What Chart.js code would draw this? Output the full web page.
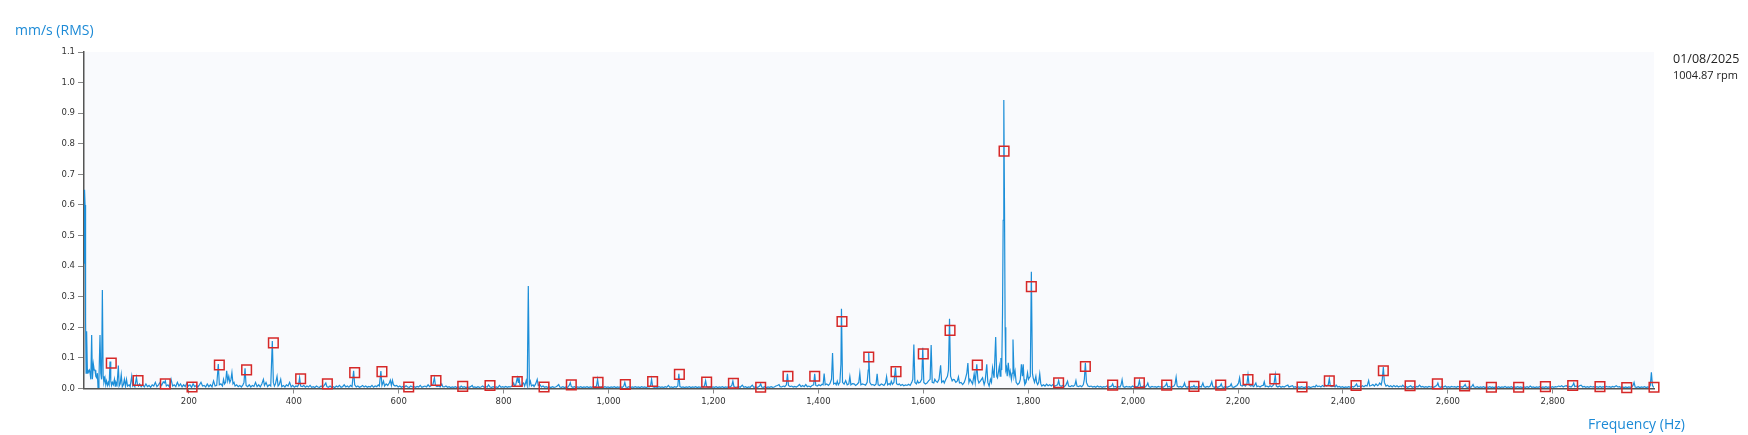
<!DOCTYPE html>
<html>
<head>
<meta charset="utf-8">
<script src="https://cdn.jsdelivr.net/npm/chart.js@4.4.1/dist/chart.umd.min.js"></script>
<style>
  body { margin: 0; background: #fff; }
  #wrap { position: relative; width: 1748px; height: 435px; }
  #spec { display: block; }
  .lbl { position: absolute; white-space: nowrap; line-height: 1; font-family: "Open Sans", sans-serif; }
  .blue { color: #1c8ad6; font-size: 14px; }
  .info { color: #222; }
</style>
</head>
<body>
<div id="wrap">
  <canvas id="spec" width="1748" height="435"></canvas>
  <div class="lbl blue" style="left:15px; top:23px;">mm/s (RMS)</div>
  <div class="lbl blue" style="left:1588px; top:417px;">Frequency (Hz)</div>
  <div class="lbl info" style="left:1673px; top:53px; font-size:12.5px;">01/08/2025</div>
  <div class="lbl info" style="left:1673px; top:69px; font-size:11px;">1004.87 rpm</div>
</div>
<script>
// axis ticks
const yTicks = [0, 0.1, 0.2, 0.3, 0.4, 0.5, 0.6, 0.7, 0.8, 0.9, 1.0, 1.1];
const xTicks = [200, 400, 600, 800, 1000, 1200, 1400, 1600, 1800, 2000, 2200, 2400, 2600, 2800];
const xMax = 2993;

// spectrum [Hz, mm/s]
const spectrumA = [[0,0.41],[1,0.65],[2,0.6],[3,0.22],[4,0.05],[5,0.187],[6.5,0.05],[7.5,0.06],[9,0.055],[10.5,0.06],[12,0.045],[13,0.03],[14.6,0.175],[16,0.03],[17.8,0.08],[19.5,0.06],[21,0.06],[22.5,0.04],[24.2,0.035],[25.5,0.05],[26.7,0.004],[28.5,0.03],[30.5,0.175],[32,0.05],[33.5,0.03],[35,0.322],[36.5,0.04],[38,0.02],[40,0.035],[41.5,0.012],[43,0.025],[45,0.01],[46.5,0.02],[48,0.012],[49.6,0.088],[51,0.025],[52.5,0.01],[54,0.02],[56,0.012],[58,0.03],[59.5,0.008],[61,0.02],[63,0.012],[65.5,0.075],[67,0.008],[69,0.015],[71,0.045],[73,0.006],[75,0.012],[77,0.03],[79,0.008],[81,0.03],[83,0.008],[86,0.012],[88,0.006],[91,0.04],[93,0.008],[95,0.012],[97,0.006],[100,0.036],[102,0.012],[104,0.008],[106,0.015],[109,0.006],
  [112,0.012],[115,0.005],[118,0.015],[121,0.006],[124,0.01],[127,0.004],[130,0.012],[133,0.008],[136,0.02],[139,0.006],[142,0.012],[145,0.02],[148,0.01],[151,0.022],[153,0.018],[155,0.025],[157,0.008],[160,0.012],[163,0.005],[166,0.03],[169,0.008],[172,0.012],[175,0.006],[178,0.02],[181,0.008],[184,0.015],[187,0.005],[190,0.012],[193,0.006],[196,0.018],[199,0.008],[202,0.012],[205,0.004],[208,0.015],[211,0.006],[214,0.01],[217,0.005],[220,0.012],[223,0.02],[226,0.008],[229,0.01],[232,0.005],[235,0.015],[238,0.006],[241,0.012],[244,0.005],[247,0.025],[250,0.008],[253,0.01],[256,0.08],[258,0.012],[261,0.015],[264,0.008],[266,0.03],[268,0.015],[270,0.02],[272,0.058],[274,0.025],[276,0.04],[278,0.02],[280,0.028],[282,0.052],[284,0.015],[286,0.02],[288,0.008],[291,0.012],[294,0.006],[297,0.01],[300,0.005],[303,0.012],[305,0.02],[307,0.066],[309,0.01],[312,0.006],[315,0.012],[318,0.005],[321,0.01],[324,0.007],[327,0.02],[330,0.006],[333,0.012],[336,0.005],[339,0.015],[342,0.03],[344,0.01],[347,0.02],[350,0.006],[353,0.012],[356,0.008],[359,0.155],[361,0.02],[363,0.008],[365,0.015],[368,0.04],[370,0.008],[372,0.012],[375,0.03],[377,0.006],[380,0.01],[383,0.005],[386,0.012],[389,0.008],[392,0.02],[395,0.005],[398,0.01],[401,0.004],[404,0.008],[407,0.006],[409,0.012],[411,0.036],[413,0.008],[416,0.006],[419,0.01],[422,0.004],[425,0.008],[428,0.005],[431,0.01],[434,0.004],[437,0.006],[440,0.003],[443,0.008],[446,0.005],[449,0.004],[452,0.008],[455,0.005],[458,0.01],[461,0.018],[463,0.006],[466,0.004],[469,0.008],[472,0.004],[475,0.006],[478,0.003],[481,0.008],[484,0.005],[487,0.01],[490,0.004],[493,0.006],[496,0.012],[499,0.005],[502,0.008],[505,0.004],[508,0.01],[511,0.006],[514,0.058],[516,0.012],[519,0.005],[522,0.008],[525,0.004]];

const spectrumB = [[528,0.006],[531,0.01],[534,0.005],[537,0.008],[540,0.004],[543,0.007],[546,0.005],[549,0.01],[552,0.004],[555,0.008],[558,0.006],[561,0.012],[563,0.008],[566,0.057],[568,0.01],[571,0.024],[573,0.008],[576,0.015],[579,0.01],[582,0.018],[584,0.027],[586,0.01],[588,0.027],[590,0.012],[593,0.008],[596,0.01],[599,0.005],[602,0.008],[605,0.004],[608,0.007],[611,0.005],[614,0.009],[617,0.005],[620,0.004],[623,0.008],[626,0.005],[629,0.006],[632,0.004],[635,0.007],[638,0.005],[641,0.01],[644,0.004],[647,0.006],[650,0.008],[653,0.005],[656,0.012],[659,0.006],[662,0.01],[665,0.012],[668,0.035],[670,0.01],[673,0.006],[676,0.008],[679,0.005],[682,0.015],[684,0.006],[687,0.005],[690,0.008],[693,0.004],[696,0.006],[699,0.003],[702,0.005],[705,0.004],[708,0.006],[711,0.003],[714,0.005],[717,0.004],[719,0.008],[722,0.004],[725,0.006],[728,0.003],[731,0.005],[734,0.004],[737,0.006],[740,0.01],[742,0.004],[745,0.005],[748,0.003],[751,0.006],[754,0.004],[757,0.005],[760,0.008],[763,0.004],[766,0.006],[769,0.005],[771,0.012],[774,0.005],[777,0.004],[780,0.006],[783,0.004],[786,0.005],[789,0.003],[792,0.01],[795,0.004],[798,0.006],[801,0.004],[804,0.007],[807,0.004],[810,0.006],[813,0.005],[816,0.008],[819,0.018],[821,0.008],[823,0.012],[826,0.035],[828,0.02],[829,0.04],[831,0.012],[834,0.008],[836,0.015],[838,0.018],[840,0.008],[843,0.026],[845,0.01],[847,0.335],[849,0.012],[851,0.024],[853,0.008],[856,0.012],[858,0.006],[861,0.015],[864,0.03],[866,0.01],[869,0.013],[872,0.005],[875,0.008],[878,0.004],[881,0.006],[884,0.004],[887,0.005],[890,0.003],[893,0.006],[896,0.004],[899,0.005],[902,0.008],[905,0.013],[907,0.005],[910,0.004],[913,0.006],[916,0.003],[919,0.005],[922,0.004],[925,0.01],[927,0.019],[929,0.006],[932,0.004],[935,0.006],[938,0.003],[941,0.005],[944,0.004],[947,0.006],[950,0.003],[953,0.005],[956,0.004],[959,0.006],[962,0.003],[965,0.005],[968,0.004],[971,0.006],[974,0.005],[977,0.008],[979,0.03],[981,0.006],[984,0.004],[987,0.005],[990,0.003],[993,0.006],[996,0.004],[999,0.005],[1002,0.003],[1005,0.005],[1008,0.004],[1011,0.006],[1014,0.003],[1017,0.005],[1020,0.004],[1023,0.006],[1026,0.003],[1029,0.008],[1031,0.02],[1033,0.005],[1036,0.004],[1039,0.006],[1042,0.003],[1045,0.005],[1048,0.004],[1051,0.006],[1054,0.004],[1057,0.005],[1060,0.003],[1063,0.006],[1066,0.004],[1069,0.005],[1072,0.003],[1075,0.006],[1078,0.005],[1080,0.008],[1082,0.03],[1084,0.006],[1087,0.004]];

const spectrumC = [[1090,0.005],[1093,0.003],[1096,0.006],[1099,0.004],[1102,0.005],[1105,0.003],[1108,0.006],[1111,0.004],[1114,0.01],[1117,0.004],[1120,0.005],[1123,0.003],[1126,0.006],[1129,0.004],[1132,0.008],[1134,0.048],[1136,0.006],[1139,0.004],[1142,0.005],[1145,0.003],[1148,0.005],[1151,0.004],[1154,0.006],[1157,0.003],[1160,0.005],[1163,0.004],[1166,0.006],[1169,0.003],[1172,0.005],[1175,0.004],[1178,0.006],[1181,0.005],[1183,0.01],[1185,0.026],[1187,0.006],[1190,0.004],[1193,0.005],[1196,0.003],[1199,0.005],[1202,0.004],[1205,0.006],[1208,0.003],[1211,0.005],[1214,0.004],[1217,0.006],[1220,0.003],[1223,0.005],[1226,0.004],[1229,0.006],[1232,0.005],[1235,0.01],[1237,0.024],[1239,0.006],[1242,0.004],[1245,0.005],[1248,0.006],[1251,0.004],[1255,0.011],[1258,0.004],[1261,0.006],[1264,0.003],[1267,0.005],[1270,0.004],[1274,0.011],[1277,0.004],[1280,0.005],[1283,0.003],[1286,0.006],[1288,0.008],[1290,0.015],[1292,0.005],[1295,0.004],[1298,0.006],[1301,0.003],[1304,0.005],[1307,0.004],[1310,0.006],[1313,0.004],[1316,0.005],[1319,0.008],[1322,0.01],[1325,0.013],[1327,0.006],[1330,0.005],[1333,0.008],[1336,0.006],[1339,0.012],[1341,0.048],[1343,0.01],[1346,0.006],[1349,0.008],[1352,0.005],[1355,0.007],[1358,0.005],[1361,0.008],[1364,0.013],[1367,0.006],[1370,0.01],[1373,0.006],[1376,0.013],[1379,0.006],[1382,0.008],[1385,0.005],[1388,0.01],[1391,0.012],[1393,0.048],[1395,0.01],[1398,0.008],[1401,0.012],[1404,0.009],[1407,0.014],[1409,0.012],[1411,0.049],[1413,0.012],[1416,0.015],[1419,0.01],[1422,0.016],[1425,0.03],[1427,0.116],[1429,0.015],[1432,0.018],[1434,0.012],[1436,0.024],[1438,0.012],[1441,0.02],[1443,0.08],[1444,0.261],[1446,0.02],[1449,0.014],[1452,0.026],[1455,0.012],[1458,0.015],[1460,0.039],[1462,0.012],[1465,0.016],[1468,0.015],[1471,0.01],[1474,0.014],[1477,0.02],[1479,0.05],[1481,0.012],[1484,0.015],[1487,0.013],[1490,0.011],[1493,0.02],[1495,0.06],[1496,0.117],[1498,0.02],[1501,0.012],[1504,0.013],[1507,0.01],[1510,0.015],[1512,0.048],[1514,0.012],[1517,0.01],[1520,0.015],[1522,0.013],[1525,0.01],[1528,0.018],[1530,0.039],[1532,0.012],[1535,0.016],[1537,0.012],[1539,0.024],[1541,0.014],[1544,0.02],[1547,0.068],[1549,0.016],[1552,0.012],[1554,0.015],[1557,0.01],[1560,0.013],[1563,0.009],[1566,0.012],[1569,0.01],[1572,0.014],[1575,0.01],[1578,0.02],[1580,0.03],[1582,0.144],[1584,0.02],[1587,0.015],[1589,0.025],[1591,0.018],[1594,0.02],[1597,0.03],[1599,0.133],[1601,0.02],[1604,0.015],[1607,0.018],[1610,0.025],[1613,0.03],[1615,0.142],[1617,0.02],[1620,0.018],[1622,0.03],[1624,0.024],[1627,0.02],[1630,0.03],[1633,0.076],[1635,0.02],[1638,0.025],[1640,0.018],[1643,0.03],[1646,0.04],[1648,0.06],[1650,0.228],[1652,0.04],[1655,0.025],[1657,0.03],[1659,0.029],[1662,0.02],[1665,0.025],[1667,0.038],[1669,0.018],[1672,0.02],[1675,0.013],[1678,0.02],[1680,0.03],[1683,0.05],[1685,0.083],[1687,0.02],[1689,0.03],[1691,0.024]];

const spectrumD = [[1694,0.015],[1697,0.048],[1699,0.02],[1702,0.079],[1704,0.03],[1706,0.018],[1709,0.025],[1713,0.035],[1716,0.013],[1718,0.025],[1721,0.079],[1723,0.02],[1725.5,0.008],[1728,0.03],[1730,0.02],[1732,0.068],[1735,0.035],[1738,0.168],[1740,0.04],[1741.5,0.035],[1745,0.073],[1746.5,0.04],[1748,0.1],[1749.5,0.06],[1751,0.242],[1752.3,0.55],[1753.5,0.943],[1754.8,0.6],[1756,0.2],[1757.3,0.06],[1758.6,0.068],[1760,0.04],[1762,0.084],[1764,0.045],[1765.6,0.057],[1768,0.03],[1769.5,0.05],[1771,0.16],[1773,0.04],[1775,0.057],[1777,0.02],[1780,0.013],[1783,0.018],[1785,0.03],[1787,0.079],[1789,0.04],[1790.5,0.079],[1792,0.03],[1793.6,0.013],[1796,0.02],[1798.7,0.051],[1800.5,0.03],[1802,0.035],[1804,0.04],[1806,0.382],[1808,0.05],[1809.5,0.035],[1812,0.02],[1814.6,0.04],[1816,0.02],[1818,0.013],[1820,0.02],[1822,0.048],[1824,0.015],[1826,0.008],[1829,0.012],[1832,0.008],[1835,0.014],[1838,0.009],[1841,0.012],[1844,0.008],[1847,0.013],[1850,0.007],[1853,0.01],[1856,0.012],[1858,0.026],[1860,0.01],[1863,0.007],[1866,0.01],[1869,0.006],[1872,0.012],[1875,0.024],[1877,0.008],[1880,0.006],[1883,0.009],[1886,0.007],[1889,0.012],[1891,0.026],[1893,0.008],[1896,0.006],[1899,0.009],[1902,0.006],[1905,0.012],[1907,0.03],[1909,0.084],[1911,0.02],[1914,0.008],[1917,0.006],[1920,0.008],[1923,0.005],[1926,0.007],[1929,0.004],[1932,0.008],[1935,0.005],[1938,0.007],[1941,0.004],[1944,0.006],[1947,0.005],[1950,0.008],[1953,0.004],[1956,0.006],[1959,0.008],[1961,0.015],[1963,0.005],[1966,0.007],[1969,0.004],[1972,0.006],[1975,0.005],[1977,0.012],[1979,0.029],[1981,0.006],[1984,0.004],[1987,0.007],[1990,0.005],[1993,0.006],[1996,0.004],[1999,0.008],[2002,0.005],[2005,0.007],[2008,0.005],[2010,0.01],[2012,0.026],[2014,0.007],[2017,0.005],[2020,0.008],[2023,0.005],[2026,0.01],[2028,0.018],[2030,0.006],[2033,0.004],[2036,0.007],[2039,0.005],[2042,0.006],[2045,0.004],[2048,0.007],[2051,0.005],[2054,0.006],[2057,0.004],[2060,0.007],[2062,0.01],[2064,0.018],[2066,0.005],[2069,0.007],[2072,0.004],[2075,0.006],[2078,0.008],[2080,0.015],[2082,0.037],[2084,0.008],[2087,0.005],[2090,0.007],[2093,0.004],[2096,0.008],[2098,0.018],[2100,0.006],[2103,0.004],[2106,0.007],[2109,0.004],[2112,0.006],[2114,0.005],[2116,0.01],[2118,0.004],[2121,0.006],[2124,0.004],[2127,0.007],[2130,0.005],[2133,0.018],[2135,0.006],[2138,0.004],[2141,0.007],[2144,0.005],[2147,0.008],[2150,0.022],[2152,0.006],[2155,0.004],[2158,0.007],[2161,0.004],[2164,0.006],[2166,0.008],[2168,0.015],[2170,0.005],[2173,0.004],[2176,0.007],[2179,0.004],[2182,0.006],[2185,0.008],[2187,0.015],[2189,0.005],[2192,0.004],[2195,0.007],[2198,0.01],[2201,0.018],[2203,0.035],[2205,0.01],[2208,0.008],[2211,0.012],[2214,0.008],[2217,0.015],[2219,0.044],[2221,0.012],[2224,0.008],[2227,0.01],[2230,0.006],[2234,0.018],[2236,0.006],[2239,0.008],[2242,0.005],[2245,0.009],[2248,0.01],[2250,0.022],[2252,0.006],[2255,0.008],[2258,0.005],[2261,0.009],[2264,0.006],[2267,0.01],[2269,0.02],[2271,0.044],[2273,0.008]];

const spectrumE = [[2276,0.005],[2279,0.008],[2282,0.004],[2285,0.007],[2288,0.005],[2291,0.008],[2295,0.011],[2297,0.005],[2300,0.007],[2304,0.009],[2306,0.004],[2309,0.006],[2312,0.003],[2315,0.005],[2318,0.004],[2321,0.006],[2323,0.005],[2326,0.003],[2329,0.005],[2332,0.004],[2335,0.006],[2338,0.003],[2341,0.005],[2344,0.007],[2347,0.005],[2349,0.011],[2352,0.006],[2355,0.008],[2358,0.005],[2361,0.01],[2364,0.006],[2366,0.011],[2369,0.008],[2372,0.012],[2374,0.032],[2376,0.008],[2379,0.006],[2382,0.008],[2385,0.005],[2387,0.011],[2390,0.005],[2393,0.007],[2396,0.004],[2399,0.006],[2402,0.003],[2405,0.005],[2408,0.004],[2411,0.006],[2414,0.004],[2417,0.007],[2420,0.005],[2423,0.008],[2426,0.015],[2428,0.006],[2431,0.008],[2434,0.005],[2437,0.009],[2440,0.006],[2443,0.01],[2446,0.008],[2449,0.026],[2451,0.008],[2454,0.01],[2457,0.013],[2460,0.008],[2463,0.015],[2466,0.009],[2468,0.012],[2470,0.018],[2473,0.012],[2475,0.03],[2477,0.07],[2479,0.02],[2482,0.008],[2485,0.011],[2488,0.006],[2491,0.009],[2494,0.005],[2497,0.01],[2500,0.006],[2503,0.009],[2506,0.005],[2509,0.008],[2512,0.006],[2514,0.011],[2517,0.005],[2520,0.007],[2523,0.004],[2526,0.006],[2529,0.009],[2532,0.004],[2535,0.006],[2538,0.004],[2541,0.007],[2543,0.005],[2546,0.011],[2549,0.005],[2552,0.007],[2555,0.004],[2558,0.006],[2561,0.004],[2564,0.007],[2567,0.005],[2570,0.006],[2573,0.004],[2576,0.007],[2579,0.01],[2581,0.018],[2583,0.006],[2586,0.004],[2589,0.007],[2592,0.005],[2595,0.008],[2598,0.004],[2601,0.006],[2604,0.004],[2607,0.007],[2610,0.005],[2613,0.006],[2616,0.004],[2619,0.007],[2622,0.005],[2625,0.006],[2628,0.004],[2631,0.008],[2633,0.013],[2635,0.005],[2638,0.004],[2641,0.006],[2644,0.004],[2646,0.008],[2648,0.013],[2650,0.005],[2653,0.004],[2656,0.006],[2659,0.003],[2662,0.005],[2665,0.004],[2668,0.006],[2671,0.003],[2674,0.005],[2677,0.004],[2680,0.006],[2683,0.003],[2685,0.005],[2688,0.003],[2691,0.005],[2694,0.004],[2697,0.006],[2700,0.003],[2703,0.005],[2706,0.004],[2709,0.007],[2712,0.003],[2715,0.005],[2718,0.004],[2721,0.006],[2724,0.003],[2727,0.005],[2730,0.004],[2733,0.006],[2736,0.004],[2739,0.005],[2742,0.003],[2745,0.005],[2748,0.004],[2751,0.006],[2754,0.003],[2757,0.008],[2760,0.004],[2763,0.005],[2766,0.003],[2769,0.005],[2772,0.004],[2775,0.006],[2778,0.003],[2781,0.005],[2784,0.004],[2787,0.006],[2790,0.004],[2793,0.005],[2796,0.003],[2799,0.006],[2802,0.004],[2805,0.006],[2808,0.005],[2811,0.008],[2814,0.006],[2817,0.009],[2820,0.005],[2823,0.008],[2826,0.009],[2829,0.005],[2832,0.007],[2835,0.005],[2838,0.01],[2840,0.018],[2842,0.006],[2845,0.008],[2848,0.005],[2851,0.009],[2854,0.011],[2857,0.005],[2860,0.007],[2863,0.004],[2866,0.006],[2869,0.004],[2872,0.007],[2875,0.005],[2878,0.006],[2881,0.004],[2884,0.006],[2887,0.004],[2890,0.007],[2893,0.004],[2896,0.006],[2899,0.004],[2902,0.007],[2905,0.005],[2908,0.006],[2911,0.004],[2914,0.007],[2917,0.005],[2921,0.009],[2924,0.005],[2927,0.006],[2930,0.004],[2933,0.005],[2936,0.003],[2939,0.005],[2942,0.003],[2945,0.005],[2948,0.004],[2951,0.006],[2953,0.01],[2955,0.02],[2957,0.005],[2960,0.004],[2963,0.006],[2966,0.003],[2969,0.005],[2972,0.004],[2975,0.006],[2978,0.003],[2981,0.005],[2984,0.004],[2986,0.01],[2988,0.053],[2990,0.01],[2992,0.005],[2994,0.004]];

// order markers (red squares)
const orderHz = [52,103,155,206,258,310,361,413,464,516,568,619,671,722,774,826,877,929,980,1032,1084,1135,1187,1238,1290,1342,1393,1445,1496,1548,1600,1651,1703,1754,1806,1858,1909,1961,2012,2064,2116,2167,2219,2270,2322,2374,2425,2477,2528,2580,2632,2683,2735,2786,2838,2890,2941,2993];
const orderRms = [0.083,0.026,0.015,0.005,0.077,0.061,0.149,0.032,0.015,0.052,0.055,0.005,0.026,0.007,0.010,0.023,0.005,0.012,0.020,0.013,0.023,0.046,0.021,0.017,0.004,0.040,0.040,0.219,0.103,0.055,0.113,0.190,0.077,0.776,0.333,0.019,0.072,0.011,0.019,0.011,0.007,0.011,0.029,0.031,0.005,0.025,0.010,0.058,0.009,0.015,0.008,0.004,0.004,0.006,0.010,0.006,0.003,0.004];

const spectrum = [].concat(spectrumA, spectrumB, spectrumC, spectrumD, spectrumE);
const tickFont = { family: 'DejaVu Sans', size: 8.5 };

const plotBg = {
    id: 'plotBg',
    beforeDraw(chart) {
        const { ctx, chartArea: a } = chart;
        ctx.save();
        ctx.fillStyle = '#fff';
        ctx.fillRect(0, 0, chart.width, chart.height);
        ctx.fillStyle = '#f9fafd';
        ctx.fillRect(a.left, a.top, a.right - a.left, a.bottom - a.top);
        ctx.restore();
    }
};

new Chart(document.getElementById('spec'), {
    type: 'line',
    data: {
        datasets: [
            {
                label: 'orders',
                data: orderHz.map((f, i) => ({ x: f, y: orderRms[i] })),
                showLine: false,
                pointStyle: 'rect',
                pointRadius: 6.8,
                pointBorderWidth: 1.5,
                pointBorderColor: 'rgb(214,40,40)',
                pointBackgroundColor: 'rgba(0,0,0,0)',
                clip: false,
                order: 0
            },
            {
                label: 'spectrum',
                data: spectrum.map(p => ({ x: p[0], y: p[1] })),
                borderColor: 'rgb(28,142,216)',
                borderWidth: 1.2,
                pointRadius: 0,
                fill: false,
                tension: 0,
                order: 1
            }
        ]
    },
    options: {
        responsive: false,
        devicePixelRatio: 1,
        animation: false,
        events: [],
        layout: { padding: { top: 52, right: 94, bottom: 0, left: 0 } },
        plugins: { legend: { display: false }, tooltip: { enabled: false } },
        scales: {
            x: {
                type: 'linear',
                min: 0,
                max: xMax,
                afterBuildTicks: s => { s.ticks = xTicks.map(v => ({ value: v })); },
                afterFit: s => { s.height = 46.5; },
                ticks: {
                    autoSkip: false, maxRotation: 0, padding: 3,
                    color: '#333', font: tickFont,
                    callback: v => v.toLocaleString('en-US')
                },
                grid: { drawOnChartArea: false, drawTicks: true, tickLength: 5, tickColor: '#888' },
                border: { color: '#555', width: 1.5 }
            },
            y: {
                min: 0,
                max: 1.1,
                afterBuildTicks: s => { s.ticks = yTicks.map(v => ({ value: v })); },
                afterFit: s => { s.width = 84; },
                ticks: {
                    padding: 3, color: '#333', font: tickFont,
                    callback: v => v.toFixed(1)
                },
                grid: { drawOnChartArea: false, drawTicks: true, tickLength: 6, tickColor: '#888' },
                border: { color: '#555', width: 1.5 }
            }
        }
    },
    plugins: [plotBg]
});
</script>
</body>
</html>
